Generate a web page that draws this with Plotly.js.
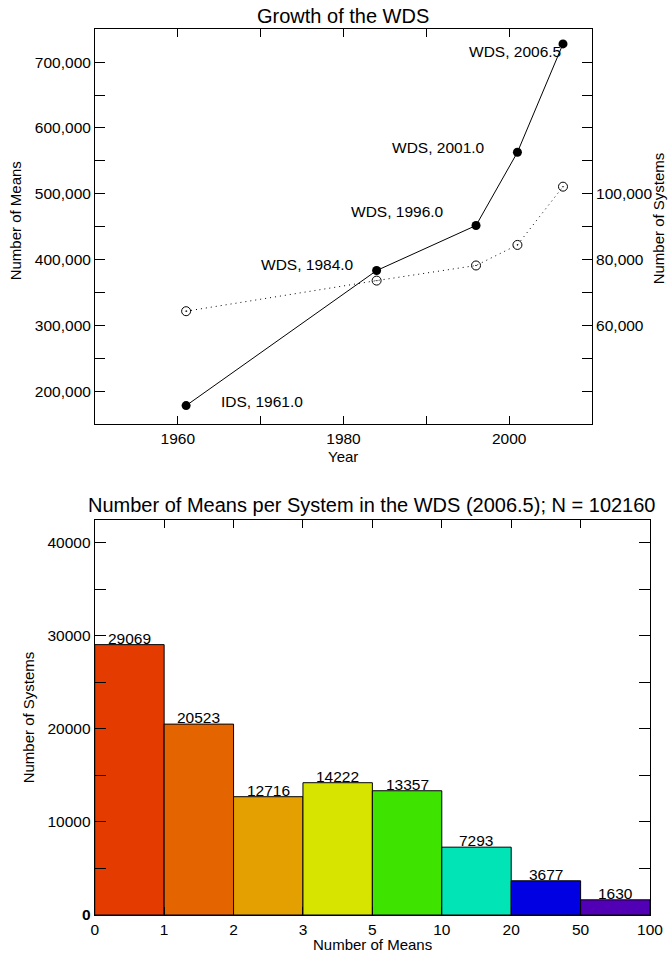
<!DOCTYPE html>
<html>
<head>
<meta charset="utf-8">
<script src="https://cdn.plot.ly/plotly-3.0.1.min.js"></script>
<style>html,body{margin:0;padding:0;background:#fff;} #chart{width:668px;height:955px;}</style>
</head>
<body>
<div id="chart"></div>
<script>
// ---- Data: top chart ----
const years = [1961.0, 1984.0, 1996.0, 2001.0, 2006.5];
const numMeans = [178000, 383300, 451800, 563100, 727800];
const numSystems = [64300, 73600, 78200, 84450, 102160];
const pointLabels = ['IDS, 1961.0', 'WDS, 1984.0', 'WDS, 1996.0', 'WDS, 2001.0', 'WDS, 2006.5'];

const yearTicks = [1960, 1970, 1980, 1990, 2000];
const yearTickText = ['1960', '', '1980', '', '2000'];
const meansTicks = [200000, 250000, 300000, 350000, 400000, 450000, 500000, 550000, 600000, 650000, 700000];
const meansTickText = ['200,000', '', '300,000', '', '400,000', '', '500,000', '', '600,000', '', '700,000'];
const sysTicks = [40000, 50000, 60000, 70000, 80000, 90000, 100000, 110000, 120000, 130000, 140000];
const sysTickText = ['', '', '60,000', '', '80,000', '', '100,000', '', '', '', ''];

// ---- Data: bottom chart ----
const binEdgeLabels = ['0', '1', '2', '3', '5', '10', '20', '50', '100'];
const binCounts = [29069, 20523, 12716, 14222, 13357, 7293, 3677, 1630];
const binColors = ['#E43C00', '#E46400', '#E4A000', '#D6E400', '#3EE400', '#00E4B6', '#0000E2', '#5200B6'];
const countTicks = [0, 5000, 10000, 15000, 20000, 25000, 30000, 35000, 40000];
const countTickText = ['<b>0</b>', '', '10000', '', '20000', '', '30000', '', '40000'];

// ---- Label placement (pixel offsets from points) ----
const labelPlace = [
  {xanchor: 'left',  xshift: 33,  yshift: 4},
  {xanchor: 'right', xshift: -21, yshift: 6},
  {xanchor: 'right', xshift: -30, yshift: 14},
  {xanchor: 'right', xshift: -30, yshift: 5},
  {xanchor: 'right', xshift: 0,   yshift: -8}
];

const FONT = 'Liberation Sans, Arial, Helvetica, sans-serif';
const tickFont = {family: FONT, size: 15.5, color: '#000'};
const titleFont = {family: FONT, size: 15, color: '#000'};

const binCenters = binCounts.map((_, i) => i + 0.5);
const binEdges = binEdgeLabels.map((_, i) => i);

const traces = [
  {
    x: years, y: numMeans, type: 'scatter', mode: 'lines+markers',
    xaxis: 'x', yaxis: 'y',
    line: {color: '#000', width: 1},
    marker: {symbol: 'circle', size: 9, color: '#000'},
    hoverinfo: 'x+y', showlegend: false
  },
  {
    x: years, y: numSystems, type: 'scatter', mode: 'lines+markers',
    xaxis: 'x', yaxis: 'y2',
    line: {color: '#000', width: 1, dash: '1px,4px'},
    marker: {symbol: 'circle-open-dot', size: 9, color: '#000', line: {width: 1, color: '#000'}},
    hoverinfo: 'x+y', showlegend: false
  },
  {
    x: binCenters, y: binCounts, type: 'bar', width: 1,
    xaxis: 'x2', yaxis: 'y3',
    marker: {color: binColors, line: {color: '#000', width: 1}},
    showlegend: false
  }
];

const annotations = [];
pointLabels.forEach((t, i) => {
  annotations.push({
    x: years[i], y: numMeans[i], xref: 'x', yref: 'y', text: t, showarrow: false,
    xanchor: labelPlace[i].xanchor, yanchor: 'middle',
    xshift: labelPlace[i].xshift, yshift: labelPlace[i].yshift,
    font: tickFont
  });
});
binCounts.forEach((v, i) => {
  annotations.push({
    x: binCenters[i], y: v, xref: 'x2', yref: 'y3', text: String(v), showarrow: false,
    xanchor: 'center', yanchor: 'bottom', yshift: -4, font: tickFont
  });
});
// Titles
annotations.push(
  {x: 0.5142, y: 0.9836, xref: 'paper', yref: 'paper', text: 'Growth of the WDS', showarrow: false,
   xanchor: 'center', yanchor: 'middle', font: {family: FONT, size: 20, color: '#000'}},
  {x: 0.5575, y: 0.4712, xref: 'paper', yref: 'paper', text: 'Number of Means per System in the WDS (2006.5); N = 102160', showarrow: false,
   xanchor: 'center', yanchor: 'middle', font: {family: FONT, size: 20, color: '#000'}},
  {x: 0.5142, y: 0.5218, xref: 'paper', yref: 'paper', text: 'Year', showarrow: false,
   xanchor: 'center', yanchor: 'middle', font: titleFont},
  {x: 0.5575, y: 0.0105, xref: 'paper', yref: 'paper', text: 'Number of Means', showarrow: false,
   xanchor: 'center', yanchor: 'middle', font: titleFont},
  {x: 0.0245, y: 0.7686, xref: 'paper', yref: 'paper', text: 'Number of Means', showarrow: false, textangle: -90,
   xanchor: 'center', yanchor: 'middle', font: titleFont},
  {x: 0.9855, y: 0.7717, xref: 'paper', yref: 'paper', text: 'Number of Systems', showarrow: false, textangle: -90,
   xanchor: 'center', yanchor: 'middle', font: titleFont},
  {x: 0.0424, y: 0.2492, xref: 'paper', yref: 'paper', text: 'Number of Systems', showarrow: false, textangle: -90,
   xanchor: 'center', yanchor: 'middle', font: titleFont}
);

const axisCommon = {
  showgrid: false, zeroline: false, showline: true, linecolor: '#000', linewidth: 1,
  ticks: 'inside', tickcolor: '#000', tickwidth: 1, tickfont: tickFont, tickmode: 'array',
  fixedrange: true
};

const layout = {
  width: 668, height: 955,
  margin: {l: 0, r: 0, t: 0, b: 0},
  paper_bgcolor: '#fff', plot_bgcolor: '#fff',
  font: {family: FONT, color: '#000'},
  showlegend: false,
  bargap: 0,
  xaxis: Object.assign({}, axisCommon, {
    domain: [0.1422, 0.8862], range: [1950, 2010], anchor: 'y',
    tickvals: yearTicks, ticktext: yearTickText, ticklen: 8, mirror: 'ticks'
  }),
  yaxis: Object.assign({}, axisCommon, {
    domain: [0.556, 0.9693], range: [150000, 750000], anchor: 'x',
    tickvals: meansTicks, ticktext: meansTickText, ticklen: 10, mirror: false
  }),
  yaxis2: Object.assign({}, axisCommon, {
    overlaying: 'y', side: 'right', anchor: 'x', range: [30000, 150000],
    tickvals: sysTicks, ticktext: sysTickText, ticklen: 10
  }),
  xaxis2: Object.assign({}, axisCommon, {
    domain: [0.1418, 0.9731], range: [0, 8], anchor: 'y3',
    tickvals: binEdges, ticktext: binEdgeLabels, ticklen: 8, mirror: 'ticks'
  }),
  yaxis3: Object.assign({}, axisCommon, {
    domain: [0.0419, 0.4555], range: [0, 42470], anchor: 'x2',
    tickvals: countTicks, ticktext: countTickText, ticklen: 11, mirror: 'ticks'
  }),
  annotations: annotations
};

Plotly.newPlot('chart', traces, layout, {displayModeBar: false, staticPlot: true});
</script>
</body>
</html>
